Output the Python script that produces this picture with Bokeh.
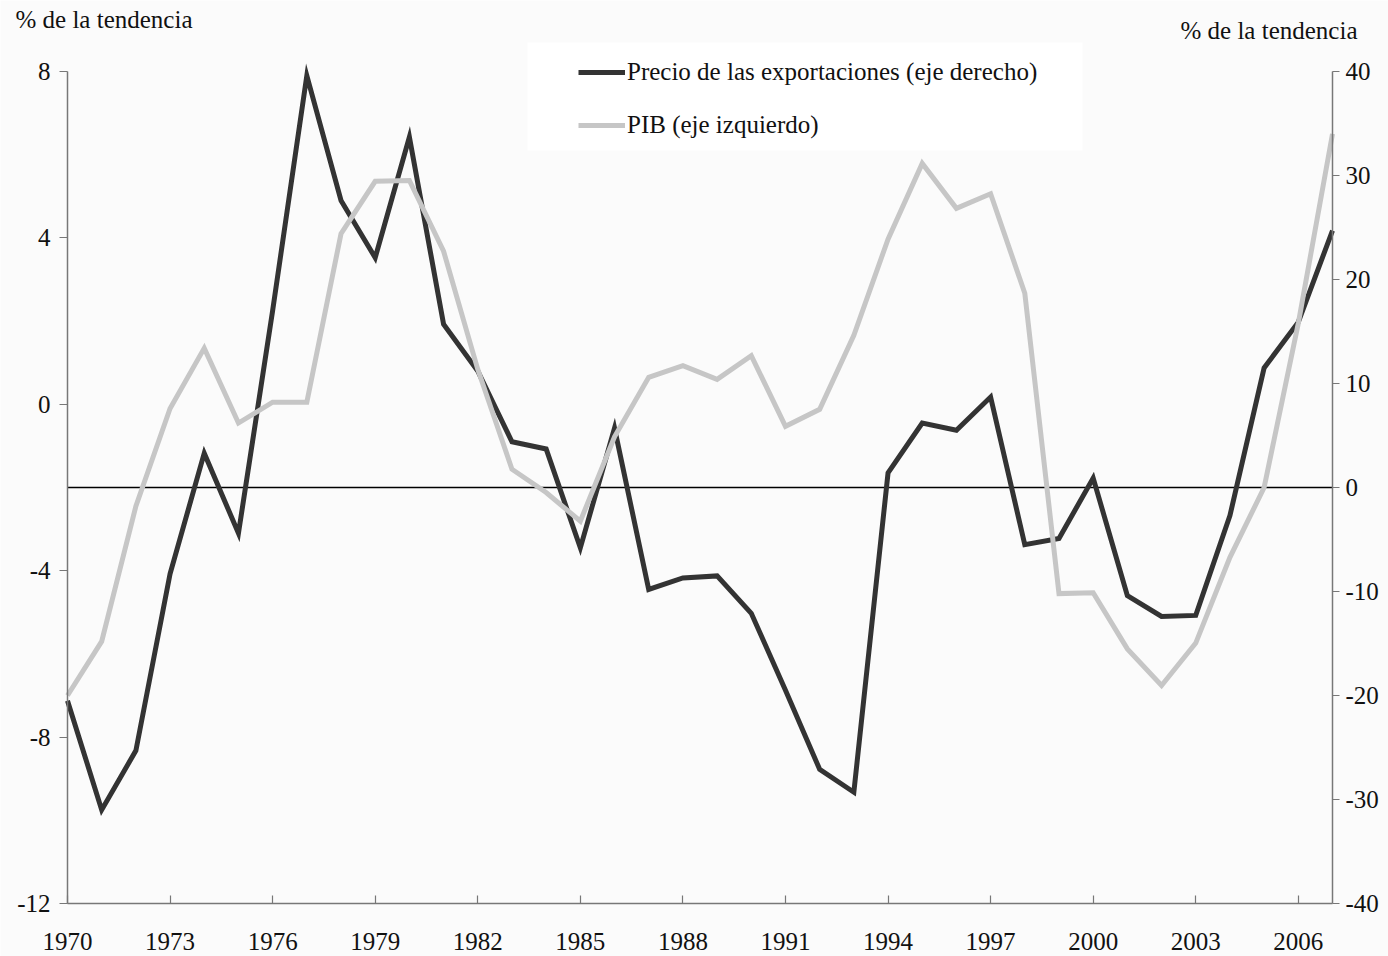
from bokeh.plotting import figure
from bokeh.models import (Range1d, LinearAxis, FixedTicker, Label, Legend, LegendItem,
                          CustomJSTickFormatter, BoxAnnotation)
from bokeh.embed import file_html
from bokeh.resources import INLINE

years = list(range(1970, 2008))
# Precio de las exportaciones (eje derecho, % de la tendencia)
export_price = [-20.5, -31.0, -25.3, -8.3, 3.3, -4.4, 17.0, 39.6, 27.6, 22.1,
                33.7, 15.7, 11.2, 4.4, 3.7, -5.8, 5.7, -9.8, -8.7, -8.5,
                -12.1, -19.5, -27.1, -29.3, 1.4, 6.2, 5.5, 8.7, -5.5, -4.9,
                0.9, -10.4, -12.4, -12.3, -2.7, 11.5, 15.9, 24.7]
# PIB (eje izquierdo, % de la tendencia)
gdp = [-7.0, -5.7, -2.45, -0.1, 1.35, -0.45, 0.05, 0.05, 4.1, 5.36,
       5.38, 3.68, 0.84, -1.56, -2.12, -2.81, -0.78, 0.65, 0.93, 0.6,
       1.17, -0.53, -0.12, 1.66, 3.97, 5.79, 4.71, 5.06, 2.67, -4.55,
       -4.53, -5.88, -6.76, -5.74, -3.68, -2.0, 1.95, 6.5]

left_ticks = [-12, -8, -4, 0, 4, 8]
right_ticks = [-40, -30, -20, -10, 0, 10, 20, 30, 40]
x_ticks = list(range(1970, 2007, 3))
unit_label = "% de la tendencia"

FONT = "Liberation Serif"
FS = "25px"
BG = "#fbfbfb"
TXT = "#111111"
AX = "#777777"

W, H = 1388, 956
# plot-area edges in pixels (the frame covers the whole canvas; axes are pinned)
PL, PR, PT, PB = 67, 1332, 71, 903
x0, x1 = years[0], years[-1]
ppx = (PR - PL) / (x1 - x0)
yl0, yl1 = left_ticks[0], left_ticks[-1]
ppl = (PB - PT) / (yl1 - yl0)
yr0, yr1 = right_ticks[0], right_ticks[-1]
ppr = (PB - PT) / (yr1 - yr0)

p = figure(width=W, height=H, output_backend="svg", toolbar_location=None,
           x_range=Range1d(x0 - PL / ppx, x1 + (W - PR) / ppx),
           y_range=Range1d(yl0 - (H - PB) / ppl, yl1 + PT / ppl),
           min_border=0, min_border_left=0, min_border_right=0,
           min_border_top=0, min_border_bottom=0,
           background_fill_color=BG, border_fill_color=BG, outline_line_color=None)
p.extra_y_ranges = {"right": Range1d(yr0 - (H - PB) / ppr, yr1 + PT / ppr)}
p.xgrid.visible = False
p.ygrid.visible = False

fmt = CustomJSTickFormatter(code="return tick.toString();")

def style_axis(ax, tin, tout, standoff):
    ax.axis_line_color = AX
    ax.axis_line_width = 1.5
    ax.major_tick_line_color = AX
    ax.major_tick_line_width = 1.2
    ax.major_tick_in = tin
    ax.major_tick_out = tout
    ax.minor_tick_line_color = None
    ax.major_label_standoff = standoff
    ax.major_label_text_font = FONT
    ax.major_label_text_font_size = FS
    ax.major_label_text_color = TXT

ya = p.yaxis[0]
ya.ticker = FixedTicker(ticks=left_ticks)
ya.formatter = fmt
ya.fixed_location = x0
ya.bounds = (yl0, yl1)
style_axis(ya, 0, 8, 9)

ra = LinearAxis(y_range_name="right", ticker=FixedTicker(ticks=right_ticks), formatter=fmt,
                fixed_location=x1, bounds=(yr0, yr1))
style_axis(ra, 0, 7, 6)
p.add_layout(ra, "right")

xa = p.xaxis[0]
xa.ticker = FixedTicker(ticks=x_ticks)
xa.formatter = fmt
xa.fixed_location = yl0
xa.bounds = (x0, x1)
style_axis(xa, 8, 0, 29)

# white box behind the legend
p.add_layout(BoxAnnotation(left=527, right=1082, top=H - 42, bottom=H - 150,
                           left_units="screen", right_units="screen",
                           top_units="screen", bottom_units="screen",
                           fill_color="white", fill_alpha=1.0, line_color=None,
                           level="underlay"))

# zero line of the right axis, across the plot area
p.segment(x0=[x0], x1=[x1], y0=[0], y1=[0], y_range_name="right",
          line_color="black", line_width=1.5)

r_exp = p.line(years, export_price, y_range_name="right", line_color="#333333",
               line_width=5, line_join="miter")
r_gdp = p.line(years, gdp, line_color="#c6c6c6", line_width=5, line_join="miter")

legend = Legend(items=[LegendItem(label="Precio de las exportaciones (eje derecho)", renderers=[r_exp]),
                       LegendItem(label="PIB (eje izquierdo)", renderers=[r_gdp])],
                location=(578, H - 140), orientation="vertical",
                background_fill_color="white", background_fill_alpha=1.0,
                border_line_color=None, padding=0, spacing=23,
                label_text_font=FONT, label_text_font_size=FS,
                label_text_color=TXT, glyph_width=47, glyph_height=30,
                label_height=30, label_standoff=2, margin=0)
p.add_layout(legend)

p.add_layout(Label(x=15, y=H - 19, x_units="screen", y_units="screen", text=unit_label,
                   text_font=FONT, text_font_size=FS, text_baseline="middle",
                   text_align="left", text_color=TXT))
p.add_layout(Label(x=1180, y=H - 30, x_units="screen", y_units="screen", text=unit_label,
                   text_font=FONT, text_font_size=FS, text_baseline="middle",
                   text_align="left", text_color=TXT))

open("out.html", "w").write(file_html(p, INLINE))
